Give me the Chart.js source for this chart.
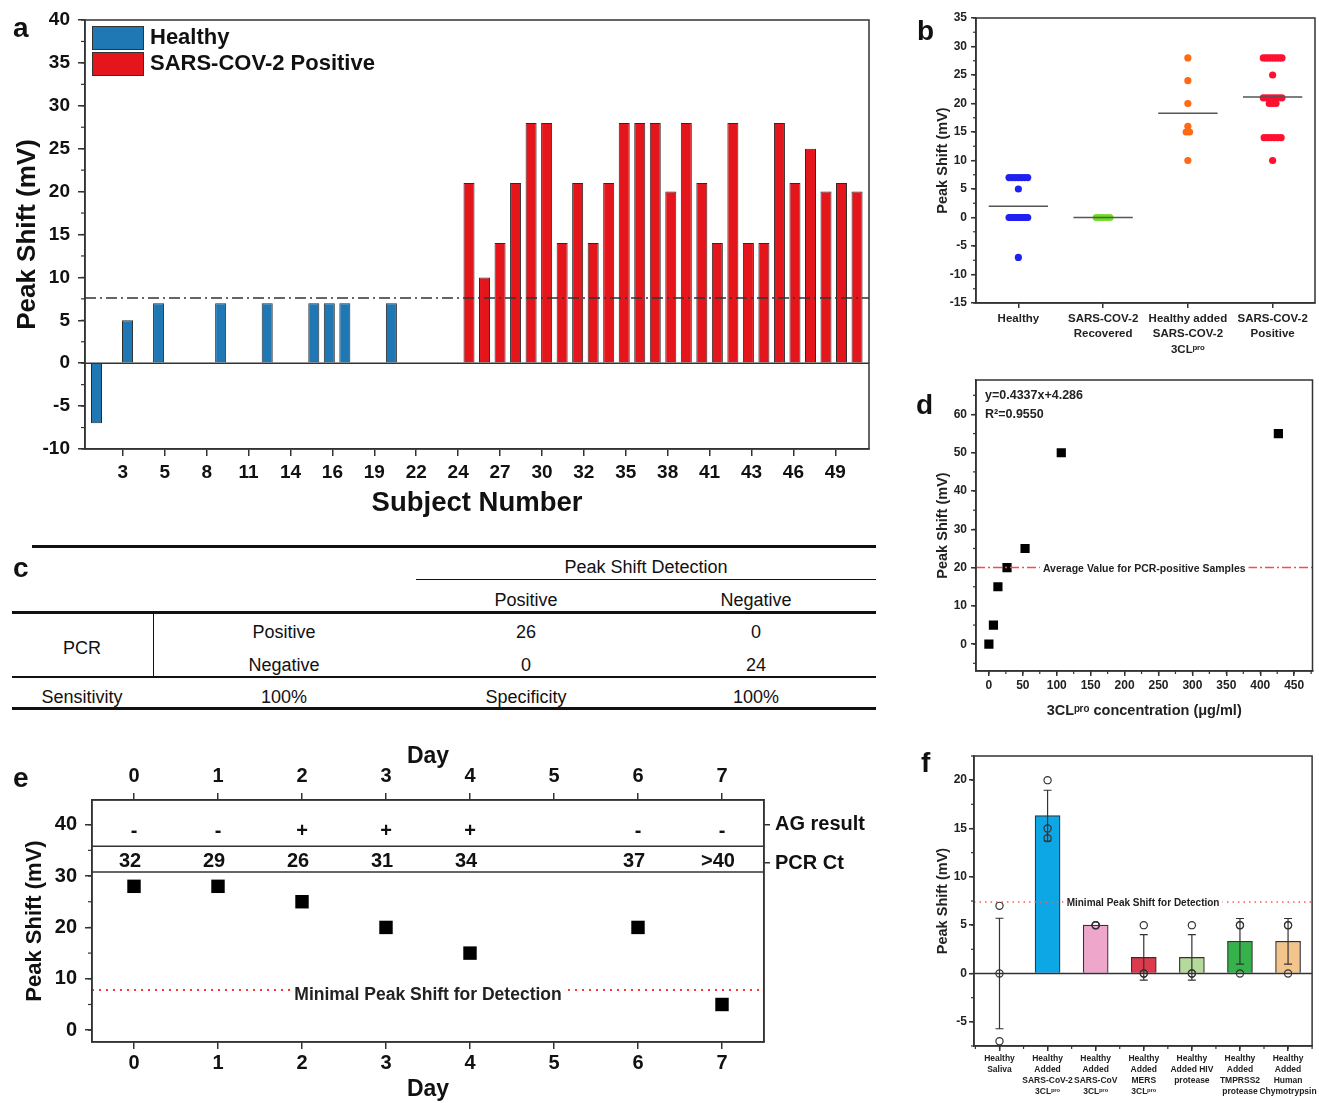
<!DOCTYPE html>
<html lang="en">
<head>
    <meta charset="UTF-8">
    <title>Peak Shift Detection of SARS-CoV-2 3CLpro</title>
    <script src="https://cdn.jsdelivr.net/npm/chart.js"></script>
    <style>
        body { margin: 0; background: #fff; }
        #page { position: relative; width: 1319px; height: 1103px; overflow: hidden; font-family: 'Liberation Sans', Arial, sans-serif; color: #111; }
        #page canvas { position: absolute; }
        .tag { position: absolute; font-weight: bold; font-size: 28px; line-height: 28px; }
        .cell { position: absolute; font-size: 18px; transform: translate(-50%, -50%); white-space: nowrap; }
        .rule { position: absolute; background: #111; }
    </style>
</head>
<body>
<div id="page">
    <canvas id="chartA" width="880" height="525" style="left:0;top:0"></canvas>
    <canvas id="chartB" width="419" height="372" style="left:900px;top:0"></canvas>
    <canvas id="chartD" width="419" height="357" style="left:900px;top:368px"></canvas>
    <canvas id="chartE" width="890" height="368" style="left:0;top:735px"></canvas>
    <canvas id="chartF" width="419" height="363" style="left:900px;top:740px"></canvas>
    <div id="tableC"></div>
    <div class="tag" style="left:13px;top:14px">a</div>
    <div class="tag" style="left:917px;top:17px">b</div>
    <div class="tag" style="left:13px;top:554px">c</div>
    <div class="tag" style="left:916px;top:391px">d</div>
    <div class="tag" style="left:13px;top:764px">e</div>
    <div class="tag" style="left:921px;top:749px">f</div>
</div>

<script>
    // ---- panel a: peak shift per subject ----
    const healthyShift = [-7, 0, 5, 0, 7, 0, 0, 0, 7, 0, 0, 7, 0, 0, 7, 7, 7, 0, 0, 7, 0, 0, 0, 0];
    const positiveShift = [21, 10, 14, 21, 28, 28, 14, 21, 14, 21, 28, 28, 28, 20, 28, 21, 14, 28, 14, 14, 28, 21, 25, 20, 21, 20];
    const subjectTickLabels = [3, 5, 8, 11, 14, 16, 19, 22, 24, 27, 30, 32, 35, 38, 41, 43, 46, 49];
    const detectionCutoff = 7.6;

    // ---- panel b: groups ----
    const groupLabels = ['Healthy', ['SARS-COV-2', 'Recovered'], ['Healthy added', 'SARS-COV-2', '3CLᵖʳᵒ'], ['SARS-COV-2', 'Positive']];
    const recoveredShift = [0, 0, 0, 0, 0];
    const spikedShift = [28, 24, 20, 16, 15, 15, 10];

    // ---- panel c: confusion table ----
    const detectionCols = ['Positive', 'Negative'];
    const pcrRows = [['Positive', '26', '0'], ['Negative', '0', '24']];
    const summaryRow = ['Sensitivity', '100%', 'Specificity', '100%'];

    // ---- panel d: concentration series ----
    const concentration = [0, 6.7, 13.3, 26.7, 53.3, 106.7, 426.7];
    const concentrationShift = [0, 5, 15, 20, 25, 50, 55];
    const avgPositiveLine = 20;

    // ---- panel e: daily follow-up ----
    const days = [0, 1, 2, 3, 4, 5, 6, 7];
    const dayShift = [28, 28, 25, 20, 15, null, 20, 5];
    const agResult = ['-', '-', '+', '+', '+', '', '-', '-'];
    const pcrCt = ['32', '29', '26', '31', '34', '', '37', '>40'];
    const rowTickLabels = ['AG result', 'PCR Ct'];
    const minimalShiftE = 7.8;

    // ---- panel f: specificity ----
    const specLabels = [
        ['Healthy', 'Saliva'],
        ['Healthy', 'Added', 'SARS-CoV-2', '3CLᵖʳᵒ'],
        ['Healthy', 'Added', 'SARS-CoV', '3CLᵖʳᵒ'],
        ['Healthy', 'Added', 'MERS', '3CLᵖʳᵒ'],
        ['Healthy', 'Added HIV', 'protease'],
        ['Healthy', 'Added', 'TMPRSS2', 'protease'],
        ['Healthy', 'Added', 'Human', 'Chymotrypsin']
    ];
    const specPoints = [[7, 0, -7], [20, 15, 14], [5, 5, 5], [5, 0, 0], [5, 0, 0], [5, 5, 0], [5, 5, 0]];
    const specColors = ['#ffffff', '#0ea7e6', '#eea6ca', '#dd3b4d', '#b6d99c', '#35b34a', '#f3c58d'];
    const minimalShiftF = 7.4;

    const family = "'Liberation Sans', Arial, sans-serif";
    Chart.defaults.font.family = family;
    Chart.defaults.color = '#111';
    Chart.defaults.animation = false;
    Chart.defaults.events = [];

    const mean = a => a.reduce((s, v) => s + v, 0) / a.length;
    const sd = a => { const m = mean(a); return Math.sqrt(mean(a.map(v => (v - m) * (v - m)))); };

    function font(size, lineHeight) { return { size: size, weight: 'bold', lineHeight: lineHeight || 1.2 }; }
    function tickGrid(len) { return { display: true, drawOnChartArea: false, drawTicks: true, tickLength: len, color: '#333', lineWidth: 1.5, offset: false }; }
    const axisBorder = { display: true, color: '#333', width: 1.5 };
    function setTicks(values) { return scale => { scale.ticks = values.map(v => ({ value: v })); }; }
    function steps(from, to, step) {
        const out = [];
        for (let k = 0; from + k * step <= to + 1e-9; k++) out.push(+(from + k * step).toFixed(4));
        return out;
    }
    function fixW(w) { return s => { s.width = w; }; }
    function fixH(h) { return s => { s.height = h; }; }

    // plugins
    function frame() {
        return { id: 'frame', afterDraw(chart) {
            const { ctx, chartArea: a } = chart;
            ctx.save();
            ctx.strokeStyle = '#333';
            ctx.lineWidth = 1.5;
            ctx.strokeRect(a.left, a.top, a.right - a.left, a.bottom - a.top);
            ctx.restore();
        } };
    }

    function refLines(lines) {
        return { id: 'refLines', afterDatasetsDraw(chart) {
            const { ctx, chartArea: a } = chart;
            const ys = chart.scales.y;
            lines.forEach(l => {
                const py = ys.getPixelForValue(l.value);
                ctx.save();
                ctx.beginPath();
                ctx.rect(a.left, a.top, a.right - a.left, a.bottom - a.top);
                ctx.clip();
                ctx.strokeStyle = l.color;
                ctx.lineWidth = l.width;
                ctx.setLineDash(l.dash || []);
                ctx.beginPath();
                ctx.moveTo(a.left, py);
                ctx.lineTo(a.right, py);
                ctx.stroke();
                if (l.label) {
                    ctx.font = 'bold ' + l.size + 'px ' + family;
                    const w = ctx.measureText(l.label).width;
                    const cx = (a.left + a.right) / 2;
                    const cy = py + (l.dy || 0);
                    ctx.fillStyle = '#fff';
                    ctx.fillRect(cx - w / 2 - 3, cy - l.size * 0.6, w + 6, l.size * 1.2);
                    ctx.fillStyle = '#222';
                    ctx.textAlign = 'center';
                    ctx.textBaseline = 'middle';
                    ctx.fillText(l.label, cx, cy);
                }
                ctx.restore();
            });
        } };
    }

    function minorTicks(list) {
        return { id: 'minorTicks', afterDraw(chart) {
            const { ctx, chartArea: a } = chart;
            ctx.save();
            ctx.strokeStyle = '#333';
            ctx.lineWidth = 1.2;
            list.forEach(m => {
                const s = chart.scales[m.axis];
                for (let k = Math.ceil(s.min / m.step); k <= Math.floor(s.max / m.step); k++) {
                    const p = s.getPixelForValue(k * m.step);
                    ctx.beginPath();
                    if (s.position === 'left') { ctx.moveTo(a.left, p); ctx.lineTo(a.left - m.len, p); }
                    else if (s.position === 'bottom') { ctx.moveTo(p, a.bottom); ctx.lineTo(p, a.bottom + m.len); }
                    else if (s.position === 'top') { ctx.moveTo(p, a.top); ctx.lineTo(p, a.top - m.len); }
                    ctx.stroke();
                }
            });
            ctx.restore();
        } };
    }

    function boxLegend(items) {
        return { id: 'boxLegend', afterDraw(chart) {
            const { ctx, chartArea: a } = chart;
            ctx.save();
            items.forEach((it, i) => {
                const x = a.left + 7, y = a.top + 6 + i * 26;
                ctx.fillStyle = it.color;
                ctx.fillRect(x, y, 51, 23);
                ctx.strokeStyle = '#333';
                ctx.lineWidth = 1;
                ctx.strokeRect(x + 0.5, y + 0.5, 51, 23);
                ctx.fillStyle = '#111';
                ctx.font = 'bold 22px ' + family;
                ctx.textBaseline = 'middle';
                ctx.fillText(it.label, x + 58, y + 12);
            });
            ctx.restore();
        } };
    }

    function notes(list) {
        return { id: 'notes', afterDraw(chart) {
            const { ctx, chartArea: a } = chart;
            ctx.save();
            ctx.fillStyle = '#222';
            ctx.font = 'bold 12.5px ' + family;
            ctx.textBaseline = 'middle';
            list.forEach(n => ctx.fillText(n.text, a.left + n.dx, a.top + n.dy));
            ctx.restore();
        } };
    }

    function rowText(rows) {
        return { id: 'rowText', afterDatasetsDraw(chart) {
            const { ctx } = chart;
            const xs = chart.scales.x, ys = chart.scales.y;
            ctx.save();
            ctx.fillStyle = '#111';
            ctx.textAlign = 'center';
            ctx.textBaseline = 'middle';
            rows.forEach(r => {
                ctx.font = 'bold ' + r.size + 'px ' + family;
                r.values.forEach((t, i) => {
                    if (t) ctx.fillText(t, xs.getPixelForValue(days[i]) + (r.dx || 0), ys.getPixelForValue(r.y));
                });
            });
            ctx.restore();
        } };
    }

    function errorBars(groups) {
        return { id: 'errorBars', afterDatasetsDraw(chart) {
            const { ctx } = chart;
            const xs = chart.scales.x, ys = chart.scales.y;
            ctx.save();
            ctx.strokeStyle = '#333';
            ctx.lineWidth = 1.2;
            groups.forEach((g, i) => {
                const m = mean(g), s = sd(g);
                if (s === 0) return;
                const px = xs.getPixelForValue(i);
                const top = ys.getPixelForValue(m + s), bot = ys.getPixelForValue(m - s);
                ctx.beginPath();
                ctx.moveTo(px, top); ctx.lineTo(px, bot);
                ctx.moveTo(px - 4, top); ctx.lineTo(px + 4, top);
                ctx.moveTo(px - 4, bot); ctx.lineTo(px + 4, bot);
                ctx.stroke();
            });
            ctx.restore();
        } };
    }

    // ================= panel a =================
    const healthyData = healthyShift.map((v, i) => ({ x: i + 1, y: v }));
    const positiveData = positiveShift.map((v, i) => ({ x: healthyShift.length + i + 1, y: v }));

    new Chart(document.getElementById('chartA'), {
        type: 'bar',
        data: {
            datasets: [
                { label: 'Healthy', data: healthyData, backgroundColor: '#1f77b4', borderColor: '#2a2a2a', borderWidth: 1, grouped: false, barPercentage: 0.71, categoryPercentage: 1 },
                { label: 'SARS-COV-2 Positive', data: positiveData, backgroundColor: '#e4161c', borderColor: '#2a2a2a', borderWidth: 1, grouped: false, barPercentage: 0.71, categoryPercentage: 1 }
            ]
        },
        options: {
            responsive: false,
            layout: { padding: { top: 20, right: 11, left: 0, bottom: 0 } },
            plugins: { legend: { display: false }, tooltip: { enabled: false } },
            scales: {
                x: {
                    type: 'linear', min: 0.26, max: 50.77, bounds: 'data', offset: false,
                    grid: tickGrid(7), border: axisBorder,
                    afterBuildTicks: setTicks(subjectTickLabels.map((t, i) => 2.7 * (i + 1))),
                    afterFit: fixH(76),
                    ticks: { autoSkip: false, maxRotation: 0, padding: 5, color: '#111', font: font(19), callback: (v, i) => subjectTickLabels[i] },
                    title: { display: true, text: 'Subject Number', color: '#111', font: font(27.5), padding: { top: 0, bottom: 5 } }
                },
                y: {
                    min: -10, max: 40, bounds: 'data',
                    grid: tickGrid(7), border: axisBorder,
                    afterBuildTicks: setTicks(steps(-10, 40, 5)),
                    afterFit: fixW(85),
                    ticks: { padding: 8, color: '#111', font: font(19) },
                    title: { display: true, text: 'Peak Shift (mV)', color: '#111', font: font(26), padding: { top: 12, bottom: 0 } }
                }
            }
        },
        plugins: [
            frame(),
            refLines([
                { value: 0, color: '#333', width: 1.5 },
                { value: detectionCutoff, color: '#333', width: 1.5, dash: [11, 4, 2, 4] }
            ]),
            minorTicks([{ axis: 'y', step: 2.5, len: 4 }]),
            boxLegend([{ label: 'Healthy', color: '#1f77b4' }, { label: 'SARS-COV-2 Positive', color: '#e4161c' }])
        ]
    });

    // ================= panel b =================
    function swarm(values, center) {
        const counts = {}, seen = {};
        values.forEach(v => { counts[v] = (counts[v] || 0) + 1; });
        return values.map(v => {
            const n = counts[v];
            const k = seen[v] = (seen[v] || 0) + 1;
            const step = n > 1 ? Math.min(0.04, 0.22 / (n - 1)) : 0;
            return { x: center + (k - 1 - (n - 1) / 2) * step, y: v };
        });
    }
    const groupValues = [healthyShift, recoveredShift, spikedShift, positiveShift];
    const groupColors = ['#2020f0', '#6fdc22', '#ff6a14', '#ff1030'];
    const pointSets = groupValues.map((vals, g) => ({
        data: swarm(vals, g + 0.5), backgroundColor: groupColors[g], borderWidth: 0, pointRadius: 3.6, order: 1
    }));
    const meanSets = groupValues.map((vals, g) => ({
        data: [{ x: g + 0.15, y: mean(vals) }, { x: g + 0.85, y: mean(vals) }],
        showLine: true, borderColor: '#555', borderWidth: 1.5, pointRadius: 0, order: 0
    }));

    new Chart(document.getElementById('chartB'), {
        type: 'scatter',
        data: { datasets: meanSets.concat(pointSets) },
        options: {
            responsive: false,
            layout: { padding: { top: 18, right: 1, left: 0, bottom: 0 } },
            plugins: { legend: { display: false }, tooltip: { enabled: false } },
            scales: {
                x: {
                    type: 'linear', min: 0, max: 4, bounds: 'data',
                    grid: tickGrid(5), border: axisBorder,
                    afterBuildTicks: setTicks([0.5, 1.5, 2.5, 3.5]),
                    afterFit: fixH(69),
                    ticks: { autoSkip: false, maxRotation: 0, minRotation: 0, padding: 3, color: '#222', font: font(11.5, 1.35), callback: (v, i) => groupLabels[i] }
                },
                y: {
                    min: -15, max: 35, bounds: 'data',
                    grid: tickGrid(5), border: axisBorder,
                    afterBuildTicks: setTicks(steps(-15, 35, 5)),
                    afterFit: fixW(76),
                    ticks: { padding: 4, color: '#222', font: font(12) },
                    title: { display: true, text: 'Peak Shift (mV)', color: '#222', font: font(14.5), padding: { top: 34, bottom: 0 } }
                }
            }
        },
        plugins: [frame(), minorTicks([{ axis: 'y', step: 2.5, len: 3 }])]
    });

    // ================= panel c (table) =================
    const tableC = document.getElementById('tableC');
    const colX = [82, 284, 526, 756];
    function addRule(x, y, w, h) {
        const d = document.createElement('div');
        d.className = 'rule';
        d.style.cssText = 'left:' + x + 'px;top:' + y + 'px;width:' + w + 'px;height:' + h + 'px';
        tableC.appendChild(d);
    }
    function addCell(text, x, y) {
        const d = document.createElement('div');
        d.className = 'cell';
        d.textContent = text;
        d.style.left = x + 'px';
        d.style.top = y + 'px';
        tableC.appendChild(d);
    }
    addRule(32, 545, 844, 3);
    addCell('Peak Shift Detection', 646, 567);
    addRule(416, 579, 460, 1);
    detectionCols.forEach((t, i) => addCell(t, colX[i + 2], 600));
    addRule(12, 611, 864, 3);
    addCell('PCR', colX[0], 648);
    pcrRows.forEach((row, r) => row.forEach((t, c) => addCell(t, colX[c + 1], 632 + r * 33)));
    addRule(153, 613, 1, 63);
    addRule(12, 676, 864, 1.5);
    summaryRow.forEach((t, c) => addCell(t, colX[c], 697));
    addRule(12, 707, 864, 3);

    // ================= panel d =================
    new Chart(document.getElementById('chartD'), {
        type: 'scatter',
        data: {
            datasets: [{
                data: concentration.map((c, i) => ({ x: c, y: concentrationShift[i] })),
                pointStyle: 'rect', pointRadius: 6.5, backgroundColor: '#000', borderWidth: 0
            }]
        },
        options: {
            responsive: false,
            layout: { padding: { top: 12, right: 1, left: 0, bottom: 0 } },
            plugins: { legend: { display: false }, tooltip: { enabled: false } },
            scales: {
                x: {
                    min: -19, max: 477, bounds: 'data',
                    grid: tickGrid(5), border: axisBorder,
                    afterBuildTicks: setTicks(steps(0, 450, 50)),
                    afterFit: fixH(54),
                    ticks: { autoSkip: false, maxRotation: 0, padding: 2, color: '#222', font: font(12) },
                    title: { display: true, text: '3CLᵖʳᵒ concentration (μg/ml)', color: '#222', font: font(14.5), padding: { top: 0, bottom: 5 } }
                },
                y: {
                    min: -7, max: 69, bounds: 'data',
                    grid: tickGrid(5), border: axisBorder,
                    afterBuildTicks: setTicks(steps(0, 60, 10)),
                    afterFit: fixW(76),
                    ticks: { padding: 4, color: '#222', font: font(12) },
                    title: { display: true, text: 'Peak Shift (mV)', color: '#222', font: font(14.5), padding: { top: 34, bottom: 0 } }
                }
            }
        },
        plugins: [
            frame(),
            refLines([{ value: avgPositiveLine, color: '#ff4848', width: 1.5, dash: [9, 3, 2, 3], label: 'Average Value for PCR-positive Samples', size: 10.5, dy: 1 }]),
            minorTicks([{ axis: 'y', step: 5, len: 3 }, { axis: 'x', step: 25, len: 3 }]),
            notes([{ text: 'y=0.4337x+4.286', dx: 9, dy: 16 }, { text: 'R²=0.9550', dx: 9, dy: 35 }])
        ]
    });

    // ================= panel e =================
    new Chart(document.getElementById('chartE'), {
        type: 'scatter',
        data: {
            datasets: [{
                data: days.map((d, i) => ({ x: d, y: dayShift[i] })),
                pointStyle: 'rect', pointRadius: 9.5, backgroundColor: '#000', borderWidth: 0
            }]
        },
        options: {
            responsive: false,
            layout: { padding: 0 },
            plugins: { legend: { display: false }, tooltip: { enabled: false } },
            scales: {
                x: {
                    min: -0.5, max: 7.5, bounds: 'data', position: 'bottom',
                    grid: tickGrid(7), border: axisBorder,
                    afterBuildTicks: setTicks(days),
                    afterFit: fixH(61),
                    ticks: { autoSkip: false, maxRotation: 0, padding: 2, color: '#111', font: font(20) },
                    title: { display: true, text: 'Day', color: '#111', font: font(23), padding: { top: 0, bottom: 0 } }
                },
                x2: {
                    type: 'linear', min: -0.5, max: 7.5, bounds: 'data', position: 'top',
                    grid: tickGrid(7), border: axisBorder,
                    afterBuildTicks: setTicks(days),
                    afterFit: fixH(65),
                    ticks: { autoSkip: false, maxRotation: 0, padding: 5, color: '#111', font: font(20) },
                    title: { display: true, text: 'Day', color: '#111', font: font(23), padding: { top: 8, bottom: 0 } }
                },
                y: {
                    min: -2.3, max: 44.8, bounds: 'data', position: 'left',
                    grid: tickGrid(7), border: axisBorder,
                    afterBuildTicks: setTicks(steps(0, 40, 10)),
                    afterFit: fixW(92),
                    ticks: { padding: 8, color: '#111', font: font(20) },
                    title: { display: true, text: 'Peak Shift (mV)', color: '#111', font: font(22), padding: { top: 22, bottom: 0 } }
                },
                y2: {
                    type: 'linear', min: -2.3, max: 44.8, bounds: 'data', position: 'right',
                    grid: tickGrid(6), border: axisBorder,
                    afterBuildTicks: setTicks([40, 32.5]),
                    afterFit: fixW(126),
                    ticks: { padding: 5, color: '#111', font: font(20), callback: (v, i) => rowTickLabels[i] }
                }
            }
        },
        plugins: [
            frame(),
            refLines([
                { value: 35.8, color: '#333', width: 1.5 },
                { value: 30.8, color: '#333', width: 1.5 },
                { value: minimalShiftE, color: '#ff3333', width: 2, dash: [2, 5], label: 'Minimal Peak Shift for Detection', size: 17.5, dy: 5 }
            ]),
            minorTicks([{ axis: 'y', step: 5, len: 4 }]),
            rowText([{ values: agResult, y: 38.7, size: 20 }, { values: pcrCt, y: 32.9, size: 20, dx: -4 }])
        ]
    });

    // ================= panel f =================
    const specMeans = specPoints.map(mean);
    const circleData = [];
    specPoints.forEach((pts, i) => pts.forEach(v => circleData.push({ x: i, y: v })));

    new Chart(document.getElementById('chartF'), {
        type: 'bar',
        data: {
            datasets: [
                { type: 'line', data: circleData, showLine: false, pointRadius: 3.6, pointBorderColor: '#333', pointBackgroundColor: 'rgba(0,0,0,0)', pointBorderWidth: 1.2, order: 0 },
                { data: specMeans.map((m, i) => ({ x: i, y: m })), backgroundColor: specColors, borderColor: '#333', borderWidth: 1.2, barThickness: 25, order: 1 }
            ]
        },
        options: {
            responsive: false,
            layout: { padding: { top: 16, right: 0, left: 0, bottom: 0 } },
            plugins: { legend: { display: false }, tooltip: { enabled: false } },
            scales: {
                x: {
                    type: 'linear', min: -0.53, max: 6.5, bounds: 'data', offset: false,
                    grid: tickGrid(5), border: axisBorder,
                    afterBuildTicks: setTicks(steps(0, 6, 1)),
                    afterFit: fixH(57),
                    ticks: { autoSkip: false, maxRotation: 0, minRotation: 0, padding: 2, color: '#222', font: font(8.5, 1.3), callback: (v, i) => specLabels[i] }
                },
                y: {
                    min: -7.5, max: 22.5, bounds: 'data',
                    grid: tickGrid(5), border: axisBorder,
                    afterBuildTicks: setTicks(steps(-5, 20, 5)),
                    afterFit: fixW(74),
                    ticks: { padding: 2, color: '#222', font: font(12) },
                    title: { display: true, text: 'Peak Shift (mV)', color: '#222', font: font(14.5), padding: { top: 34, bottom: 0 } }
                }
            }
        },
        plugins: [
            frame(),
            refLines([
                { value: 0, color: '#333', width: 1.3 },
                { value: minimalShiftF, color: '#ff5a5a', width: 1.5, dash: [1.5, 4], label: 'Minimal Peak Shift for Detection', size: 10, dy: 1 }
            ]),
            minorTicks([{ axis: 'y', step: 2.5, len: 3 }, { axis: 'x', step: 0.5, len: 3 }]),
            errorBars(specPoints)
        ]
    });
</script>
</body>
</html>
